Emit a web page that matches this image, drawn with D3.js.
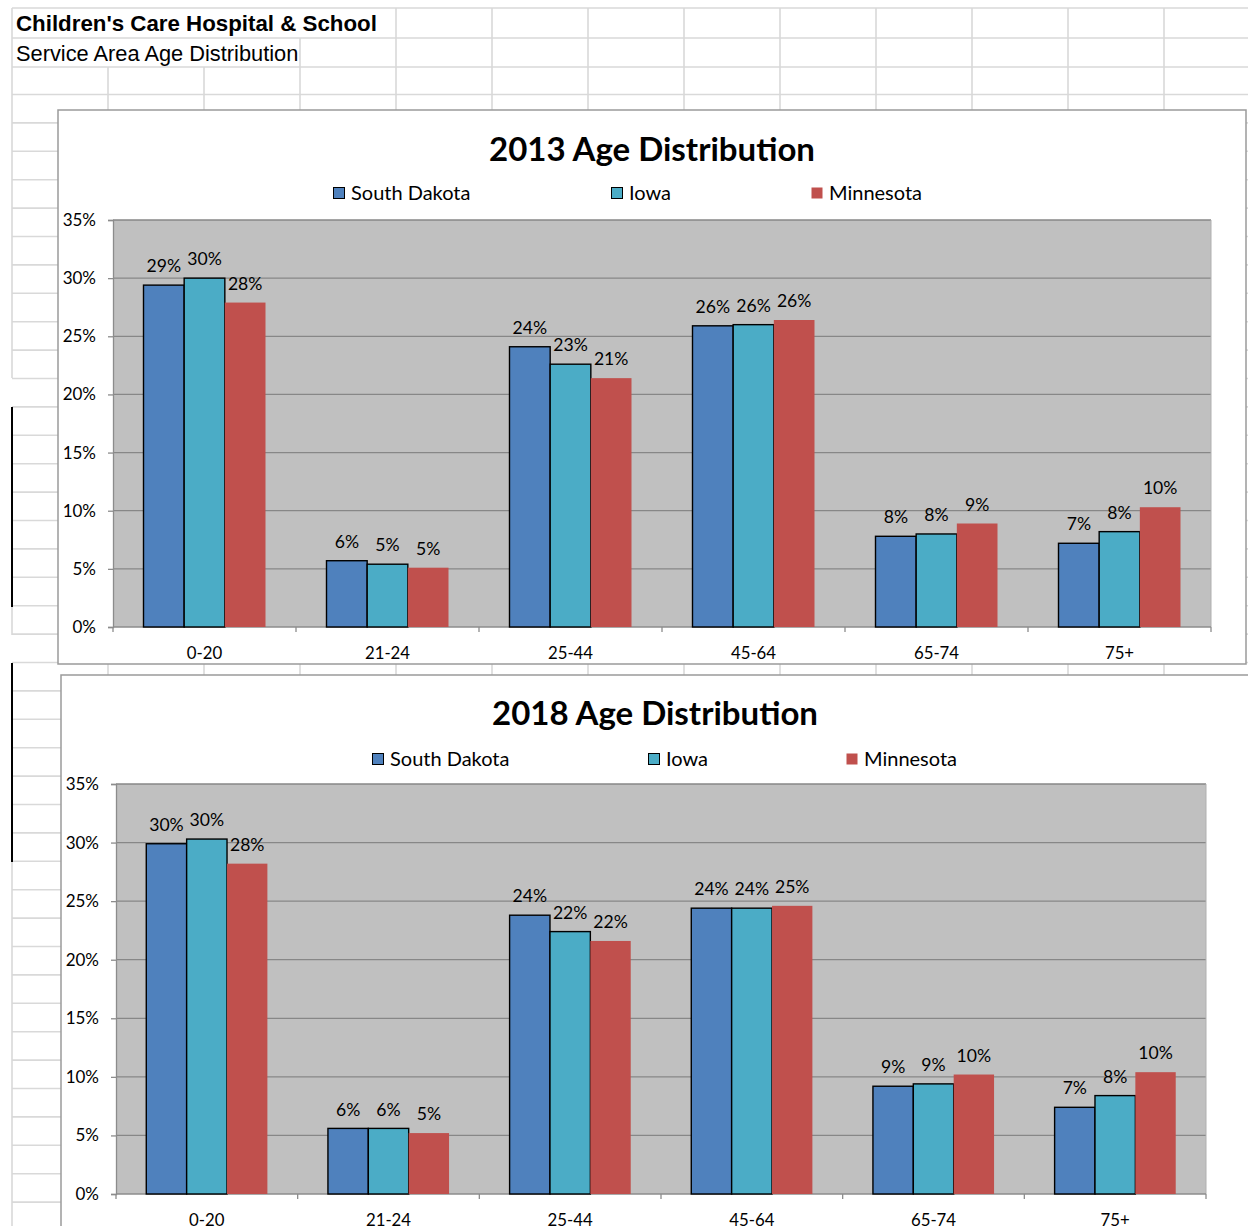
<!DOCTYPE html>
<html>
<head>
<meta charset="utf-8">
<script src="https://cdn.jsdelivr.net/npm/d3@7"></script>
<style>
  html, body { margin: 0; padding: 0; background: #ffffff; }
  svg { display: block; }
</style>
</head>
<body>
<svg id="sheet" width="1248" height="1226"></svg>
<script>
// ---- data -------------------------------------------------------------
const categories = ["0-20", "21-24", "25-44", "45-64", "65-74", "75+"];
const seriesNames = ["South Dakota", "Iowa", "Minnesota"];

// share of population (%) per age band, 2013
const southDakota2013 = [29.4, 5.7, 24.1, 25.9, 7.8, 7.2];
const iowa2013        = [30.0, 5.4, 22.6, 26.0, 8.0, 8.2];
const minnesota2013   = [27.9, 5.1, 21.4, 26.4, 8.9, 10.3];

// share of population (%) per age band, 2018
const southDakota2018 = [29.9, 5.6, 23.8, 24.4, 9.2, 7.4];
const iowa2018        = [30.3, 5.6, 22.4, 24.4, 9.4, 8.4];
const minnesota2018   = [28.2, 5.2, 21.6, 24.6, 10.2, 10.4];

const yTicks = [0, 5, 10, 15, 20, 25, 30, 35];
const yTickLabels = ["0%", "5%", "10%", "15%", "20%", "25%", "30%", "35%"];

const sheetTitle = "Children's Care Hospital & School";
const sheetSubtitle = "Service Area Age Distribution";
const chartTitles = ["2013 Age Distribution", "2018 Age Distribution"];

// ---- styling ----------------------------------------------------------
const seriesFill = ["#4f81bd", "#4bacc6", "#c0504d"];
const seriesStroke = ["#000000", "#000000", "none"];
const chartFont = "Lato, 'Open Sans', sans-serif";
const sheetFont = "'Liberation Sans', Arial, sans-serif";
const cellLine = "#d9d9d9";

const svg = d3.select("#sheet");
const W = 1248, H = 1226;

// ---- spreadsheet backdrop --------------------------------------------
const grid = svg.append("g").attr("class", "cells");

// row boundaries
const rowLines = [8, 38, 67].concat(d3.range(94.5, H, 28.4));
grid.selectAll("line.row").data(rowLines).join("line")
  .attr("class", "row")
  .attr("x1", 12).attr("x2", W)
  .attr("y1", d => d).attr("y2", d => d)
  .attr("stroke", cellLine).attr("stroke-width", 1.6);

// column boundaries (text in the first two rows spills over the cells to its right)
const colLines = d3.range(108, W, 96);
grid.selectAll("line.col").data(colLines).join("line")
  .attr("class", "col")
  .attr("x1", d => d).attr("x2", d => d)
  .attr("y1", d => d >= 396 ? 8 : (d >= 300 ? 38 : 67))
  .attr("y2", H)
  .attr("stroke", cellLine).attr("stroke-width", 1.6);

// left edge of the sheet, with two bordered blocks
const leftEdge = [
  { y1: 8,   y2: 378, c: cellLine, w: 1.6 },
  { y1: 407, y2: 607, c: "#000000", w: 2 },
  { y1: 607, y2: 635, c: cellLine, w: 1.6 },
  { y1: 663, y2: 862, c: "#000000", w: 2 },
  { y1: 862, y2: H,   c: cellLine, w: 1.6 }
];
grid.selectAll("line.edge").data(leftEdge).join("line")
  .attr("class", "edge")
  .attr("x1", 12).attr("x2", 12)
  .attr("y1", d => d.y1).attr("y2", d => d.y2)
  .attr("stroke", d => d.c).attr("stroke-width", d => d.w);

svg.append("text")
  .attr("x", 16).attr("y", 31)
  .attr("font-family", sheetFont).attr("font-weight", "bold")
  .attr("font-size", 22.3).attr("fill", "#000")
  .text(sheetTitle);
svg.append("text")
  .attr("x", 16).attr("y", 61)
  .attr("font-family", sheetFont)
  .attr("font-size", 21.8).attr("fill", "#000")
  .text(sheetSubtitle);

// ---- charts -----------------------------------------------------------
const charts = [
  {
    title: chartTitles[0],
    values: [southDakota2013, iowa2013, minnesota2013],
    box: { x: 58, y: 110, w: 1188, h: 554 },
    plot: { left: 55, top: 110, w: 1098, h: 407 },
    titleY: 39,
    legendX: [275, 553, 753], legendY: 77
  },
  {
    title: chartTitles[1],
    values: [southDakota2018, iowa2018, minnesota2018],
    box: { x: 61, y: 675, w: 1188, h: 600 },
    plot: { left: 55, top: 109, w: 1090, h: 410 },
    titleY: 38,
    legendX: [311, 587, 785], legendY: 78
  }
];

const fmtPct = v => d3.format(".0f")(v) + "%";

charts.forEach(cfg => {
  const g = svg.append("g").attr("transform", `translate(${cfg.box.x},${cfg.box.y})`);

  // chart frame
  g.append("rect")
    .attr("x", 0).attr("y", 0)
    .attr("width", cfg.box.w).attr("height", cfg.box.h)
    .attr("fill", "#ffffff").attr("stroke", "#9a9a9a").attr("stroke-width", 1.5);

  // title
  g.append("text")
    .attr("x", cfg.box.w / 2).attr("y", cfg.titleY)
    .attr("dy", "0.35em")
    .attr("text-anchor", "middle")
    .attr("font-family", chartFont).attr("font-weight", "bold")
    .attr("font-size", 33).attr("fill", "#000")
    .text(cfg.title);

  // legend
  const leg = g.append("g").selectAll("g").data(seriesNames).join("g")
    .attr("transform", (d, i) => `translate(${cfg.legendX[i]},${cfg.legendY})`);
  leg.append("rect")
    .attr("x", 0.5).attr("y", 0.5).attr("width", 11).attr("height", 11)
    .attr("fill", (d, i) => seriesFill[i])
    .attr("stroke", (d, i) => seriesStroke[i]).attr("stroke-width", 1);
  leg.append("text")
    .attr("x", 18).attr("y", 6).attr("dy", "0.35em")
    .attr("font-family", chartFont).attr("font-size", 20).attr("fill", "#000")
    .text(d => d);

  // plot area
  const p = g.append("g").attr("transform", `translate(${cfg.plot.left},${cfg.plot.top})`);
  const w = cfg.plot.w, h = cfg.plot.h;

  const x0 = d3.scaleBand().domain(categories).range([0, w]).padding(0);
  const x1 = d3.scaleBand().domain(seriesNames).range([0, x0.bandwidth()])
    .paddingInner(0).paddingOuter(0.75);
  const y = d3.scaleLinear().domain([0, 35]).range([h, 0]);

  p.append("rect").attr("width", w).attr("height", h).attr("fill", "#c0c0c0");

  // gridlines
  p.append("g").selectAll("line").data(yTicks.filter(t => t > 0)).join("line")
    .attr("x1", 0).attr("x2", w)
    .attr("y1", d => y(d)).attr("y2", d => y(d))
    .attr("stroke", "#878787").attr("stroke-width", 1.3);

  // right edge of plot
  p.append("line").attr("x1", w).attr("x2", w).attr("y1", 0).attr("y2", h)
    .attr("stroke", "#b0b0b0").attr("stroke-width", 1);

  // y axis
  const yAxis = p.append("g")
    .call(d3.axisLeft(y).tickValues(yTicks).tickSize(5).tickPadding(12)
      .tickFormat((d, i) => yTickLabels[i]));
  yAxis.select(".domain").attr("stroke", "#8c8c8c").attr("stroke-width", 1.3);
  yAxis.selectAll(".tick line").attr("stroke", "#8c8c8c").attr("stroke-width", 1.3);
  yAxis.selectAll(".tick text")
    .attr("font-family", chartFont).attr("font-size", 17).attr("fill", "#000");

  // x axis: labels centred on categories, ticks on category boundaries
  const xAxis = p.append("g").attr("transform", `translate(0,${h})`)
    .call(d3.axisBottom(x0).tickSize(0).tickPadding(0));
  xAxis.select(".domain").remove();
  xAxis.selectAll(".tick text")
    .attr("y", 26).attr("dy", "0.35em")
    .attr("font-family", chartFont).attr("font-size", 16.8).attr("fill", "#000");
  const bounds = categories.map(c => x0(c)).concat([w]);
  xAxis.append("line").attr("x1", 0).attr("x2", w).attr("y1", 0).attr("y2", 0)
    .attr("stroke", "#8c8c8c").attr("stroke-width", 1.3);
  xAxis.selectAll("line.bound").data(bounds).join("line")
    .attr("class", "bound")
    .attr("x1", d => d).attr("x2", d => d).attr("y1", 0).attr("y2", 5)
    .attr("stroke", "#8c8c8c").attr("stroke-width", 1.3);

  // bars
  const groups = p.append("g").selectAll("g").data(seriesNames).join("g");
  groups.selectAll("rect")
    .data((s, si) => categories.map((c, ci) => ({ s, si, c, v: cfg.values[si][ci] })))
    .join("rect")
    .attr("x", d => x0(d.c) + x1(d.s))
    .attr("y", d => y(d.v))
    .attr("width", x1.bandwidth())
    .attr("height", d => h - y(d.v))
    .attr("fill", d => seriesFill[d.si])
    .attr("stroke", d => seriesStroke[d.si])
    .attr("stroke-width", 1.4);

  // value labels
  groups.selectAll("text")
    .data((s, si) => categories.map((c, ci) => ({ s, si, c, v: cfg.values[si][ci] })))
    .join("text")
    .attr("x", d => x0(d.c) + x1(d.s) + x1.bandwidth() / 2)
    .attr("y", d => y(d.v) - 19)
    .attr("dy", "0.35em")
    .attr("text-anchor", "middle")
    .attr("font-family", chartFont).attr("font-size", 17.6).attr("fill", "#000")
    .text(d => fmtPct(d.v));
});
</script>
</body>
</html>
